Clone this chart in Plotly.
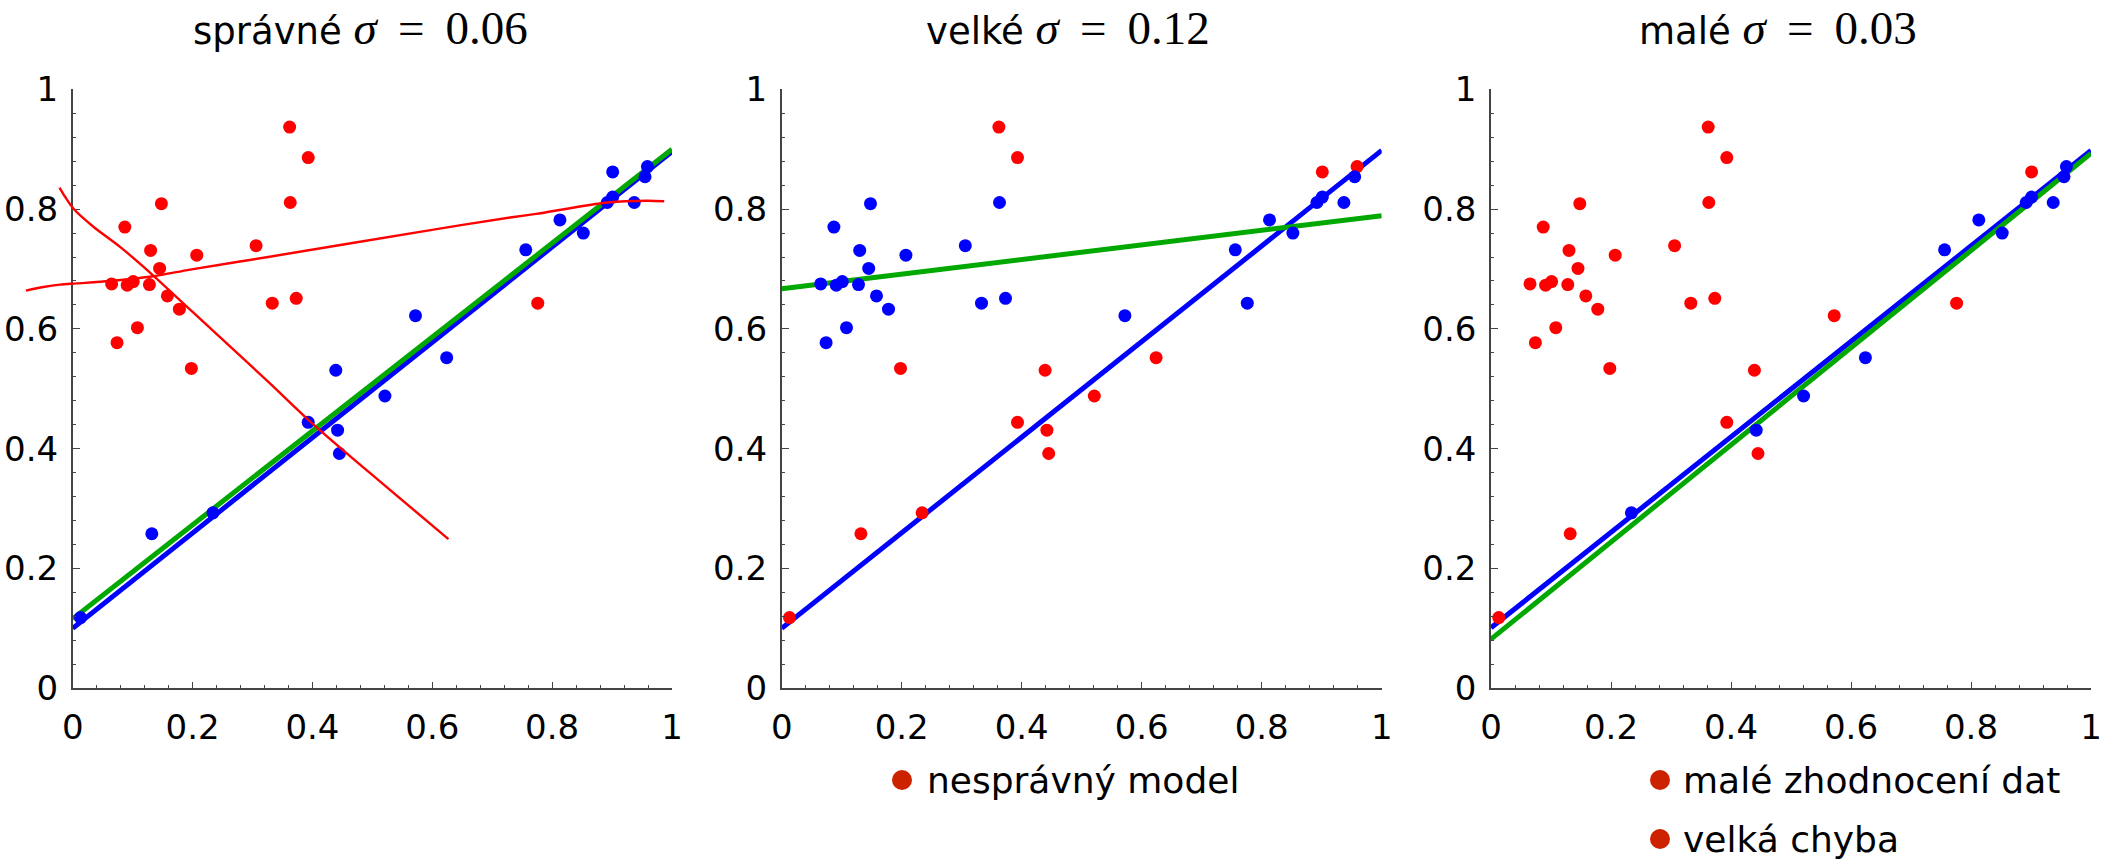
import plotly.graph_objects as go

W, H = 2113, 859

# ---------------- data ----------------
x_data = [0.362, 0.393, 0.363, 0.148, 0.087, 0.130, 0.207, 0.306, 0.145, 0.065,
          0.091, 0.101, 0.128, 0.158, 0.178, 0.333, 0.373, 0.108, 0.074, 0.198,
          0.776, 0.901, 0.959, 0.955, 0.901, 0.892, 0.937, 0.813, 0.852, 0.756,
          0.572, 0.624, 0.521, 0.439, 0.393, 0.442, 0.445, 0.132, 0.234, 0.013]
y_data = [0.937, 0.886, 0.811, 0.809, 0.770, 0.731, 0.723, 0.739, 0.701, 0.675,
          0.673, 0.679, 0.674, 0.655, 0.633, 0.643, 0.651, 0.602, 0.577, 0.534,
          0.643, 0.862, 0.871, 0.854, 0.820, 0.811, 0.811, 0.782, 0.760, 0.732,
          0.622, 0.552, 0.488, 0.531, 0.444, 0.431, 0.392, 0.258, 0.293, 0.118]

# indices (0-based) of points drawn red in each panel
red_p1 = list(range(0, 21))
red_p2 = [0, 1, 19, 21, 22, 31, 32, 33, 34, 35, 36, 37, 38, 39]
red_p3 = list(range(0, 22)) + [30, 33, 34, 36, 37, 39]

# fitted lines (values at x=0 and x=1)
line_x = [0, 1]
blue_p1 = [0.100, 0.896]
green_p1 = [0.116, 0.900]
blue_p2 = [0.100, 0.898]
green_p2 = [0.667, 0.789]
blue_p3 = [0.101, 0.898]
green_p3 = [0.082, 0.893]

# red curves of panel 1
curveA_x = [-0.078, -0.049, -0.021, 0.007, 0.062, 0.135, 0.196, 0.326, 0.597, 0.730, 0.773, 0.892, 0.959, 0.987]
curveA_y = [0.664, 0.670, 0.674, 0.676, 0.680, 0.688, 0.699, 0.720, 0.765, 0.786, 0.792, 0.811, 0.814, 0.813]
curveB_x = [-0.022, -0.013, 0.001, 0.034, 0.079, 0.129, 0.196, 0.326, 0.400, 0.519, 0.627]
curveB_y = [0.836, 0.821, 0.801, 0.771, 0.737, 0.694, 0.632, 0.512, 0.442, 0.340, 0.249]

tick_vals = [0, 0.2, 0.4, 0.6, 0.8, 1]
tick_text = ["0", "0.2", "0.4", "0.6", "0.8", "1"]
minor_vals = [0.04, 0.08, 0.12, 0.16, 0.24, 0.28, 0.32, 0.36, 0.44, 0.48, 0.52, 0.56,
              0.64, 0.68, 0.72, 0.76, 0.84, 0.88, 0.92, 0.96]

titles = ["správné", "velké", "malé"]
sigmas = ["0.06", "0.12", "0.03"]
legend2 = ["nesprávný model"]
legend3 = ["malé zhodnocení dat", "velká chyba"]

RED = "#ff0000"
BLUE = "#0000ff"
GREEN = "#00a800"
LEG = "#cc2200"
AX = "#444444"
FONT = "DejaVu Sans"
SERIF = "Liberation Serif"

# ---------------- layout geometry (pixels) ----------------
panels_px = [(72.7, 672.0), (781.7, 1381.7), (1491.0, 2091.0)]
y_top_px, y_bot_px = 89.3, 688.3
ydom = [(H - y_bot_px) / H, (H - y_top_px) / H]

def px2paper_x(p):
    return p / W

def px2paper_y(p):
    return (H - p) / H

fig = go.Figure()

panel_lines = [(blue_p1, green_p1), (blue_p2, green_p2), (blue_p3, green_p3)]
panel_reds = [red_p1, red_p2, red_p3]

for i in range(3):
    xa = "x" if i == 0 else f"x{i+1}"
    ya = "y" if i == 0 else f"y{i+1}"
    blue, green = panel_lines[i]
    fig.add_trace(go.Scatter(x=line_x, y=blue, mode="lines", line=dict(color=BLUE, width=5),
                             xaxis=xa, yaxis=ya, showlegend=False, hoverinfo="skip"))
    fig.add_trace(go.Scatter(x=line_x, y=green, mode="lines", line=dict(color=GREEN, width=5),
                             xaxis=xa, yaxis=ya, showlegend=False, hoverinfo="skip"))
    reds = set(panel_reds[i])
    rx = [x_data[k] for k in range(len(x_data)) if k in reds]
    ry = [y_data[k] for k in range(len(x_data)) if k in reds]
    bx = [x_data[k] for k in range(len(x_data)) if k not in reds]
    by = [y_data[k] for k in range(len(x_data)) if k not in reds]
    fig.add_trace(go.Scatter(x=rx, y=ry, mode="markers", marker=dict(color=RED, size=13, line=dict(width=0)),
                             xaxis=xa, yaxis=ya, showlegend=False, cliponaxis=False))
    fig.add_trace(go.Scatter(x=bx, y=by, mode="markers", marker=dict(color=BLUE, size=13, line=dict(width=0)),
                             xaxis=xa, yaxis=ya, showlegend=False, cliponaxis=False))

# red curves on an extended, invisible axis pair so they can reach left of x=0
fig.add_trace(go.Scatter(x=curveA_x, y=curveA_y, mode="lines", line=dict(color=RED, width=2.4, shape="spline", smoothing=0.8),
                         xaxis="x4", yaxis="y4", showlegend=False, hoverinfo="skip"))
fig.add_trace(go.Scatter(x=curveB_x, y=curveB_y, mode="lines", line=dict(color=RED, width=2.4, shape="spline", smoothing=0.8),
                         xaxis="x4", yaxis="y4", showlegend=False, hoverinfo="skip"))

axis_common = dict(
    range=[0, 1], showline=True, linecolor=AX, linewidth=1.6, showgrid=False, zeroline=False,
    ticks="inside", ticklen=7, tickwidth=1.4, tickcolor=AX,
    tickmode="array", tickvals=tick_vals, ticktext=tick_text,
    tickfont=dict(family=FONT, size=34, color="black"),
    minor=dict(tickmode="array", tickvals=minor_vals, ticks="inside", ticklen=3.5, tickwidth=1.2, tickcolor=AX),
    fixedrange=True, automargin=False,
)

layout = dict(
    template="none",
    width=W, height=H, margin=dict(l=0, r=0, t=0, b=0, pad=0, autoexpand=False),
    paper_bgcolor="white", plot_bgcolor="rgba(0,0,0,0)",
    font=dict(family=FONT, color="black"),
    showlegend=False,
)
for i, (a, b) in enumerate(panels_px):
    xn = "xaxis" if i == 0 else f"xaxis{i+1}"
    yn = "yaxis" if i == 0 else f"yaxis{i+1}"
    ya = "y" if i == 0 else f"y{i+1}"
    xa = "x" if i == 0 else f"x{i+1}"
    layout[xn] = dict(axis_common, domain=[px2paper_x(a), px2paper_x(b)], anchor=ya, ticklabelstandoff=8)
    layout[yn] = dict(axis_common, domain=ydom, anchor=xa, ticklabelstandoff=6)

# extended axis for curves of panel 1: range [-0.1, 1]
a, b = panels_px[0]
ext_left = a - 0.1 * (b - a)
layout["xaxis4"] = dict(domain=[px2paper_x(ext_left), px2paper_x(b)], range=[-0.1, 1], visible=False,
                        anchor="y4", fixedrange=True, automargin=False)
layout["yaxis4"] = dict(domain=ydom, range=[0, 1], visible=False, anchor="x4", fixedrange=True, automargin=False)

fig.update_layout(**layout)

# titles
title_centers = [360, 1068, 1778]
for t, s, c in zip(titles, sigmas, title_centers):
    txt = (f"{t}\u00a0<span style='font-family:{SERIF};font-size:47px'>"
           f"<i>σ</i>\u00a0\u2009=\u00a0\u2009{s}</span>")
    fig.add_annotation(x=px2paper_x(c), y=px2paper_y(0), xref="paper", yref="paper",
                       text=txt, showarrow=False, xanchor="center", yanchor="top",
                       font=dict(family=FONT, size=37, color="black"))

# legends (dot + label)
def legend_item(cx, cy, label, tx):
    r = 10
    fig.add_shape(type="circle", xref="paper", yref="paper",
                  x0=px2paper_x(cx - r), x1=px2paper_x(cx + r),
                  y0=px2paper_y(cy + r), y1=px2paper_y(cy - r),
                  fillcolor=LEG, line=dict(width=0))
    fig.add_annotation(x=px2paper_x(tx), y=px2paper_y(cy), xref="paper", yref="paper",
                       text=label, showarrow=False, xanchor="left", yanchor="middle",
                       font=dict(family=FONT, size=36, color="black"))

legend_item(902, 780, legend2[0], 925)
legend_item(1660, 780, legend3[0], 1681)
legend_item(1660, 839, legend3[1], 1681)

fig.write_html("out.html")
